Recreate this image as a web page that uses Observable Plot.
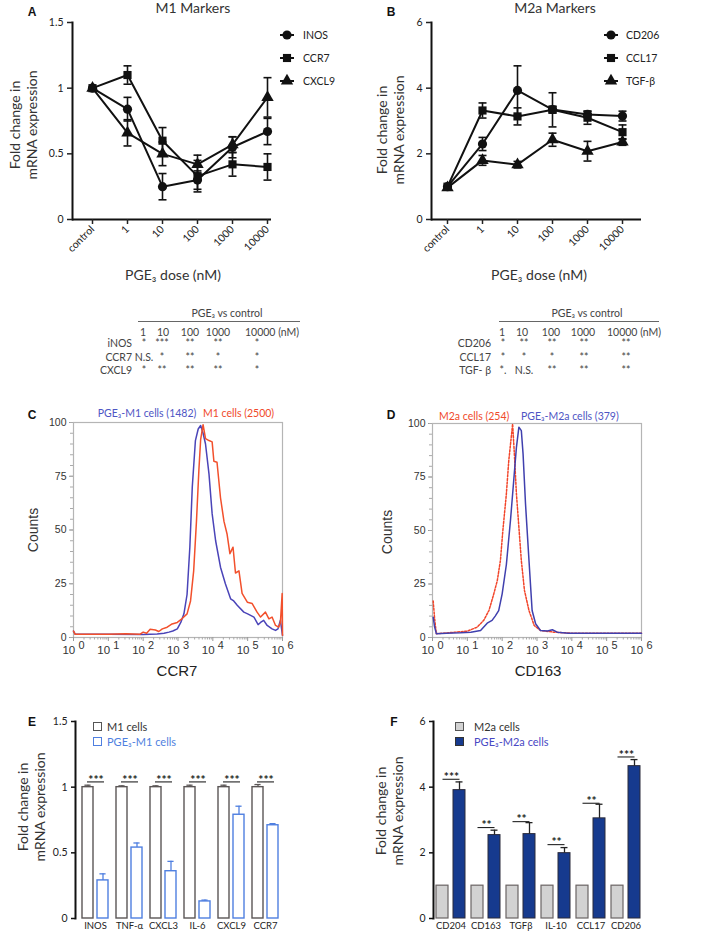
<!DOCTYPE html>
<html><head><meta charset="utf-8">
<script src="https://cdn.jsdelivr.net/npm/d3@7"></script>
<script src="https://cdn.jsdelivr.net/npm/@observablehq/plot@0.6"></script>
<style>
body{margin:0;background:#fff;}
#root{position:relative;width:709px;height:936px;overflow:hidden;background:#fff;font-family:Lato,sans-serif;color:#333;}
.abs{position:absolute;white-space:pre;line-height:1;}
</style></head><body><div id="root"></div>
<script>
// ---------------- data ----------------
const doses = ["control","1","10","100","1000","10000"];
const m1Markers = ["INOS","CCR7","CXCL9"];
const m1_INOS = [1,0.84,0.25,0.30,0.55,0.67];
const m1_INOS_err = [0,0.09,0.10,0.07,0.08,0.10];
const m1_CCR7 = [1,1.10,0.60,0.33,0.42,0.40];
const m1_CCR7_err = [0,0.07,0.10,0.12,0.09,0.10];
const m1_CXCL9 = [1,0.66,0.50,0.42,0.57,0.93];
const m1_CXCL9_err = [0,0.10,0.09,0.07,0.06,0.15];

const m2Markers = ["CD206","CCL17","TGF-β"];
const m2_CD206 = [1,2.30,3.93,3.35,3.20,3.15];
const m2_CD206_err = [0,0.20,0.75,0.10,0.10,0.15];
const m2_CCL17 = [1,3.32,3.14,3.34,3.10,2.66];
const m2_CCL17_err = [0,0.23,0.26,0.52,0.20,0.22];
const m2_TGFb = [0.97,1.80,1.67,2.43,2.08,2.36];
const m2_TGFb_err = [0,0.15,0.10,0.20,0.30,0.10];

const tableCols = ["1","10","100","1000","10000 (nM)"];
const tableA_rows = ["iNOS","CCR7","CXCL9"];
const tableA_vals = [["*","***","**","**","*"],["N.S.","*","**","*","*"],["*","**","**","**","*"]];
const tableB_rows = ["CD206","CCL17","TGF- β"];
const tableB_vals = [["*","**","**","**","**"],["*","*","*","**","**"],["*.","N.S.","**","**","**"]];

// flow histograms: [log10 fluorescence, % of max count]
const ccr7_PGE_M1 = [[0,3],[0.05,1.5],[1,1.5],[2,1.4],[2.4,1.6],[2.6,2],[2.74,2.5],[2.85,3],[2.98,4],[3.08,7],[3.17,11],[3.26,20],[3.34,42],[3.41,70],[3.50,91.6],[3.58,97],[3.65,98.6],[3.72,95],[3.79,90],[3.89,76],[3.98,57.6],[4.08,45],[4.22,32.7],[4.36,25],[4.51,18],[4.60,17],[4.70,15],[4.89,11.8],[5.0,11],[5.18,9.5],[5.30,6],[5.37,7],[5.46,8],[5.56,5.6],[5.70,4],[5.80,3.3],[5.87,4],[5.94,8],[6.0,1]];
const ccr7_M1 = [[0,3],[0.05,1.5],[1,1.5],[1.5,1.8],[1.9,1.5],[2.0,2.5],[2.1,2],[2.2,3.8],[2.35,3.5],[2.45,2.8],[2.55,4],[2.69,4.8],[2.83,6.3],[2.98,7],[3.12,8.8],[3.26,11],[3.36,17],[3.45,31],[3.53,54],[3.60,78],[3.65,92],[3.72,99],[3.79,92.5],[3.89,91.6],[3.98,91],[4.03,82],[4.12,81.5],[4.22,65],[4.32,54],[4.41,48],[4.49,39],[4.58,42],[4.65,30],[4.75,31],[4.84,20.5],[4.99,16.4],[5.13,15.8],[5.27,11.8],[5.37,9.5],[5.51,11.8],[5.61,8.7],[5.70,9.5],[5.80,5.6],[5.89,4.8],[5.94,7],[5.99,20.5],[6.0,1]];
const cd163_M2a = [[0.02,17],[0.06,9],[0.11,1.8],[0.3,2],[0.6,2.4],[1.0,3],[1.28,4.8],[1.47,8],[1.62,12.6],[1.76,20.4],[1.86,26.6],[1.95,36],[2.02,50],[2.12,67],[2.19,82.7],[2.27,95],[2.30,99.8],[2.35,85.8],[2.41,67],[2.48,51.5],[2.55,36],[2.64,22],[2.77,12.6],[2.92,5.6],[3.1,3.3],[3.48,2.5],[4,2],[6,2]];
const cd163_PGE_M2a = [[0.02,9.5],[0.06,5],[0.11,1.8],[0.4,2],[0.8,2.2],[1.1,2.5],[1.38,3.3],[1.57,6.7],[1.71,8],[1.80,10],[1.90,12.6],[2.0,20.4],[2.12,34],[2.24,55],[2.33,73],[2.41,89],[2.48,98.3],[2.55,96.7],[2.60,85.8],[2.67,62.5],[2.77,36],[2.86,12.6],[2.96,6.4],[3.1,3.3],[3.3,3],[3.44,3.6],[3.58,2.5],[3.9,2],[6,2]];

const genesE = ["INOS","TNF-α","CXCL3","IL-6","CXCL9","CCR7"];
const e_M1 = [1,1,1,1,1,1];
const e_M1_err = [0.015,0.01,0.01,0.015,0.015,0.02];
const e_PGE = [0.29,0.54,0.36,0.13,0.79,0.71];
const e_PGE_err = [0.05,0.035,0.075,0.01,0.065,0.012];
const e_sig = ["***","***","***","***","***","***"];
const e_sigY = [1.04,1.04,1.04,1.04,1.04,1.04];

const genesF = ["CD204","CD163","TGFβ","IL-10","CCL17","CD206"];
const f_M2a = [1,1,1,1,1,1];
const f_PGE = [3.91,2.54,2.57,1.99,3.05,4.64];
const f_PGE_err = [0.25,0.15,0.35,0.17,0.43,0.20];
const f_sig = ["***","**","**","**","**","***"];
const f_sigY = [4.24,2.77,2.95,2.25,3.51,4.92];

// ---------------- helpers ----------------
const root = document.getElementById("root");
function place(node, left, top) {
  node.style.position = "absolute"; node.style.left = left + "px"; node.style.top = top + "px";
  root.append(node);
  return node;
}
function txt(str, x, y, o = {}) {
  const d = document.createElement("div");
  d.className = "abs"; d.textContent = str;
  const anchor = o.anchor || "middle";
  Object.assign(d.style, {left: x + "px", top: y + "px", fontSize: (o.size || 11) + "px",
    color: o.color || "#333", fontFamily: o.family || "Lato, sans-serif", fontWeight: o.weight || "normal",
    lineHeight: (o.lh || 1) + "", textAlign: "center"});
  const tx = anchor === "middle" ? "-50%" : anchor === "end" ? "-100%" : "0";
  d.style.transform = `translate(${tx},-50%)` + (o.rotate ? ` rotate(${o.rotate}deg)` : "");
  root.append(d);
  return d;
}
function ytitle(lines, cx, cy, size = 14, lh = 17, family = "Lato, sans-serif") {
  const d = txt(lines.join("\n"), cx, cy, {size, family, color: "#333"});
  d.style.lineHeight = lh + "px";
  d.style.transform = "translate(-50%,-50%) rotate(-90deg)";
}
const capSym = w => ({draw(ctx) { ctx.moveTo(-w, 0); ctx.lineTo(w, 0); }});

// ---------------- A / B dose-response ----------------
function doseChart({names, series, errs, yDomain, yTicks, width, marginLeft, marginRight, padding, align}) {
  const rows = [];
  names.forEach((n, i) => doses.forEach((d, j) => rows.push({dose: d, marker: n, v: series[i][j], e: errs[i][j]})));
  const er = rows.filter(r => r.e > 0);
  return Plot.plot({
    width, height: 300, marginLeft, marginRight, marginTop: 22, marginBottom: 81,
    style: {fontFamily: "Lato, sans-serif", fontSize: "10.5px", color: "#222", background: "transparent", overflow: "visible"},
    x: {type: "point", domain: doses, padding, align, label: null},
    y: {domain: yDomain, label: null},
    symbol: {domain: names, range: ["circle", "square", "triangle"]},
    marks: [
      Plot.ruleY([yDomain[0]], {stroke: "#111", strokeWidth: 2}),
      Plot.frame({anchor: "left", stroke: "#111", strokeWidth: 2}),
      Plot.axisY({ticks: yTicks, tickSize: 5, tickPadding: 4, strokeWidth: 1.5, label: null, tickFormat: d => String(d)}),
      Plot.axisX({tickSize: 5, tickRotate: -45, tickPadding: 3, strokeWidth: 1.5, label: null}),
      Plot.line(rows, {x: "dose", y: "v", z: "marker", stroke: "#111", strokeWidth: 2}),
      Plot.ruleX(er, {x: "dose", y1: r => r.v - r.e, y2: r => r.v + r.e, stroke: "#111", strokeWidth: 1.6}),
      Plot.dot(er, {x: "dose", y: r => r.v - r.e, symbol: capSym(4), fill: "none", stroke: "#111", strokeWidth: 1.6}),
      Plot.dot(er, {x: "dose", y: r => r.v + r.e, symbol: capSym(4), fill: "none", stroke: "#111", strokeWidth: 1.6}),
      Plot.dot(rows, {x: "dose", y: "v", symbol: "marker", fill: "#111", stroke: "none", r: 4.6})
    ]
  });
}
place(doseChart({names: m1Markers, series: [m1_INOS, m1_CCR7, m1_CXCL9], errs: [m1_INOS_err, m1_CCR7_err, m1_CXCL9_err],
  yDomain: [0, 1.5], yTicks: [0, 0.5, 1, 1.5], width: 354, marginLeft: 72, marginRight: 83, padding: 0.33, align: 0.83}), 0, 0);
place(doseChart({names: m2Markers, series: [m2_CD206, m2_CCL17, m2_TGFb], errs: [m2_CD206_err, m2_CCL17_err, m2_TGFb_err],
  yDomain: [0, 6], yTicks: [0, 2, 4, 6], width: 355, marginLeft: 77, marginRight: 68, padding: 0.5, align: 0.46}), 354, 0);

function legendRow(sym, cx, cy, label, tx) {
  const s = d3.create("svg").attr("width", 20).attr("height", 14).style("overflow", "visible");
  s.append("line").attr("x1", 3).attr("x2", 17).attr("y1", 7).attr("y2", 7).attr("stroke", "#111").attr("stroke-width", 2);
  s.append("path").attr("transform", "translate(10,7)").attr("d", d3.symbol(sym, 66)()).attr("fill", "#111");
  place(s.node(), cx - 10, cy - 7);
  txt(label, tx, cy, {size: 10.5, anchor: "start", color: "#222"});
}
const legSyms = [d3.symbolCircle, d3.symbolSquare, d3.symbolTriangle];
const legY = [35, 58, 81];
m1Markers.forEach((m, i) => legendRow(legSyms[i], 287, legY[i], m, 303));
m2Markers.forEach((m, i) => legendRow(legSyms[i], 611, legY[i], m, 626));

txt("M1 Markers", 193, 8, {size: 14, color: "#333"});
txt("M2a Markers", 555, 8, {size: 14, color: "#333"});
ytitle(["Fold change in", "mRNA expression"], 22.5, 125);
ytitle(["Fold change in", "mRNA expression"], 390, 130);
txt("PGE₃ dose (nM)", 173, 275, {size: 14, color: "#333"});
txt("PGE₃ dose (nM)", 539, 275, {size: 14, color: "#333"});

// ---------------- tables ----------------
function table(rowsL, vals, {titleX, lineX1, lineX2, headX, valX, labelEnd}) {
  txt("PGE₃ vs control", titleX, 313, {size: 10.5, color: "#444"});
  const ln = document.createElement("div");
  Object.assign(ln.style, {position: "absolute", left: lineX1 + "px", top: "321px", width: (lineX2 - lineX1) + "px", height: "0", borderTop: "1px solid #666"});
  root.append(ln);
  tableCols.forEach((c, j) => txt(c, headX[j], 332, {size: 10.5, color: "#444", anchor: j === 4 ? "start" : "middle"}));
  const rowY = [343, 357, 370];
  rowsL.forEach((r, i) => {
    txt(r, labelEnd, rowY[i], {size: 10.5, color: "#444", anchor: "end"});
    vals[i].forEach((v, j) => txt(v, valX[j], rowY[i], {size: 10.5, color: "#444"}));
  });
}
table(tableA_rows, tableA_vals, {titleX: 227, lineX1: 138, lineX2: 300, headX: [143, 163, 190, 218, 245], valX: [144, 162, 190, 218, 257], labelEnd: 132});
table(tableB_rows, tableB_vals, {titleX: 587, lineX1: 499, lineX2: 659, headX: [502, 522, 551, 583, 607], valX: [503, 524, 552, 584, 626], labelEnd: 491});

// ---------------- C / D histograms ----------------
const minorDec = d3.range(0, 6).flatMap(e => d3.range(2, 10).map(m => e + Math.log10(m)));
function histChart({lines, width, marginLeft, marginRight, marginTop}) {
  const svg = Plot.plot({
    width, height: 280, marginLeft, marginRight, marginTop, marginBottom: 43,
    style: {fontFamily: "'Liberation Sans', Arial, sans-serif", fontSize: "10.5px", color: "#333", background: "transparent", overflow: "visible"},
    x: {domain: [0, 6], label: null},
    y: {domain: [0, 100], label: null},
    marks: [
      Plot.frame({stroke: "#b5b5b5", strokeWidth: 1.2}),
      Plot.axisY({ticks: [0, 25, 50, 75, 100], tickSize: 4, tickPadding: 3, stroke: "#999", label: null}),
      Plot.axisY({ticks: d3.range(0, 101, 5), tickSize: 3, stroke: "#aaa", tickFormat: () => "", label: null}),
      Plot.axisX({ticks: d3.range(0, 7), tickSize: 4, tickPadding: 4, stroke: "#999", fontSize: 11.5, tickFormat: d => "10^" + d, label: null}),
      Plot.axisX({ticks: minorDec, tickSize: 2.5, stroke: "#aaa", tickFormat: () => "", label: null}),
      ...lines.map(l => Plot.line(l.data, {stroke: l.color, strokeWidth: 1.5, strokeDasharray: l.dash, curve: "linear"}))
    ]
  });
  // render exponent as raised text
  d3.select(svg).selectAll("text").each(function() {
    const m = /^10\^(\d)$/.exec(this.textContent);
    if (m) {
      const s = d3.select(this);
      s.text("10 ");
      s.append("tspan").attr("dy", "-0.45em").attr("font-size", "0.95em").text(m[1]);
    }
  });
  return svg;
}
place(histChart({lines: [{data: ccr7_PGE_M1, color: "#4a44b8"}, {data: ccr7_M1, color: "#f2502c"}],
  width: 354, marginLeft: 73, marginRight: 72, marginTop: 22}), 0, 400);
place(histChart({lines: [{data: cd163_M2a, color: "#f2452a", dash: "2,1.6"}, {data: cd163_PGE_M2a, color: "#4040ae"}],
  width: 355, marginLeft: 78, marginRight: 68, marginTop: 23}), 354, 400);
txt("PGE₃-M1 cells (1482)", 147, 413, {size: 10.5, color: "#4e55c4"});
txt("M1 cells (2500)", 203, 413, {size: 10.5, color: "#f04a2a", anchor: "start"});
txt("M2a cells (254)", 439, 416, {size: 10.5, color: "#f04a2a", anchor: "start"});
txt("PGE₃-M2a cells (379)", 521, 416, {size: 10.5, color: "#4e55c4", anchor: "start"});
ytitle(["Counts"], 33, 530, 14, 16, "'Liberation Sans', Arial, sans-serif");
ytitle(["Counts"], 387, 532, 14, 16, "'Liberation Sans', Arial, sans-serif");
txt("CCR7", 177, 670, {size: 15, family: "'Liberation Sans', Arial, sans-serif", color: "#222"});
txt("CD163", 538, 670, {size: 15, family: "'Liberation Sans', Arial, sans-serif", color: "#222"});

// ---------------- E / F bar charts ----------------
function barChart({genes, ctrl, ctrlErr, pge, pgeErr, sig, sigY, yDomain, yTicks, width, marginLeft, marginRight,
                   ctrlStyle, pgeStyle, ctrlIns, pgeIns, off, ctrlErrColor, pgeErrColor, sigIns}) {
  const rows = genes.map((g, i) => ({g, c: ctrl[i], ce: ctrlErr ? ctrlErr[i] : 0, p: pge[i], pe: pgeErr[i], s: sig[i], sy: sigY[i]}));
  const bw = (width - marginLeft - marginRight) / genes.length;
  const capL = bw / 2 - off - 3.5, capR = bw / 2 + off - 3.5;
  const marks = [
    Plot.frame({anchor: "left", stroke: "#111", strokeWidth: 2}),
    Plot.axisY({ticks: yTicks, tickSize: 4, tickPadding: 4, strokeWidth: 1.5, stroke: "#111", label: null, tickFormat: d => String(d)}),
    Plot.axisX({tickSize: 0, tickPadding: 4, fontSize: 9.5, label: null}),
    Plot.barY(rows, {x: "g", y: "c", ...ctrlStyle, insetLeft: ctrlIns[0], insetRight: ctrlIns[1]}),
    Plot.barY(rows, {x: "g", y: "p", ...pgeStyle, insetLeft: pgeIns[0], insetRight: pgeIns[1]}),
    Plot.ruleX(rows, {x: "g", y1: "p", y2: r => r.p + r.pe, dx: off, stroke: pgeErrColor, strokeWidth: 1.3}),
    Plot.tickY(rows, {x: "g", y: r => r.p + r.pe, insetLeft: capR, insetRight: capL, stroke: pgeErrColor, strokeWidth: 1.3}),
    Plot.tickY(rows, {x: "g", y: "sy", insetLeft: sigIns[0], insetRight: sigIns[1], stroke: "#222", strokeWidth: 1.1}),
    Plot.text(rows, {x: "g", y: "sy", text: "s", dy: -2, dx: 0.5, fontSize: 12, fontWeight: "bold", fill: "#222"})
  ];
  if (ctrlErr) {
    marks.push(Plot.ruleX(rows, {x: "g", y1: "c", y2: r => r.c + r.ce, dx: -off, stroke: ctrlErrColor, strokeWidth: 1.3}));
    marks.push(Plot.tickY(rows, {x: "g", y: r => r.c + r.ce, insetLeft: capL, insetRight: capR, stroke: ctrlErrColor, strokeWidth: 1.3}));
  }
  return Plot.plot({
    width, height: 246, marginLeft, marginRight, marginTop: 31, marginBottom: 18,
    style: {fontFamily: "Lato, sans-serif", fontSize: "10.5px", color: "#222", background: "transparent", overflow: "visible"},
    x: {type: "band", domain: genes, padding: 0, label: null},
    y: {domain: yDomain, label: null},
    marks
  });
}
place(barChart({genes: genesE, ctrl: e_M1, ctrlErr: e_M1_err, pge: e_PGE, pgeErr: e_PGE_err, sig: e_sig, sigY: e_sigY,
  yDomain: [0, 1.5], yTicks: [0, 0.5, 1, 1.5], width: 354, marginLeft: 75, marginRight: 70,
  ctrlStyle: {fill: "white", stroke: "#5b5656", strokeWidth: 1.4}, pgeStyle: {fill: "white", stroke: "#4f7fe0", strokeWidth: 1.4},
  ctrlIns: [4, 19], pgeIns: [19, 4], off: 7.5, ctrlErrColor: "#5b5656", pgeErrColor: "#4f7fe0", sigIns: [9, 8]}), 0, 690);
place(barChart({genes: genesF, ctrl: f_M2a, ctrlErr: null, pge: f_PGE, pgeErr: f_PGE_err, sig: f_sig, sigY: f_sigY,
  yDomain: [0, 6], yTicks: [0, 2, 4, 6], width: 355, marginLeft: 79, marginRight: 66,
  ctrlStyle: {fill: "#d2d2d2", stroke: "#6a6464", strokeWidth: 1.2}, pgeStyle: {fill: "#163a8e", stroke: "#2a2a3a", strokeWidth: 1},
  ctrlIns: [3, 20], pgeIns: [20, 3], off: 8.5, pgeErrColor: "#222", sigIns: [9.5, 8.5]}), 354, 690);

function boxLegend(x, y, fill, stroke, label, color, tx) {
  const b = document.createElement("div");
  Object.assign(b.style, {position: "absolute", left: x + "px", top: (y - 4) + "px", width: "7px", height: "7px", background: fill, border: "1.2px solid " + stroke});
  root.append(b);
  txt(label, tx, y, {size: 11, color, anchor: "start"});
}
boxLegend(93, 726, "#fff", "#555", "M1 cells", "#333", 107);
boxLegend(93, 741, "#fff", "#4f7fe0", "PGE₃-M1 cells", "#4f7fe0", 107);
boxLegend(455, 726, "#d2d2d2", "#555", "M2a cells", "#333", 474);
boxLegend(455, 741, "#163a8e", "#333", "PGE₃-M2a cells", "#4848c4", 474);
ytitle(["Fold change in", "mRNA expression"], 30.5, 807);
ytitle(["Fold change in", "mRNA expression"], 389, 811);

// panel letters
[["A", 32, 12], ["B", 391, 12], ["C", 32, 415], ["D", 391, 415], ["E", 32, 722], ["F", 394, 722]]
  .forEach(([t, x, y]) => txt(t, x, y, {size: 12, weight: "bold", color: "#111", family: "'Liberation Sans', Arial, sans-serif"}));
</script></body></html>
